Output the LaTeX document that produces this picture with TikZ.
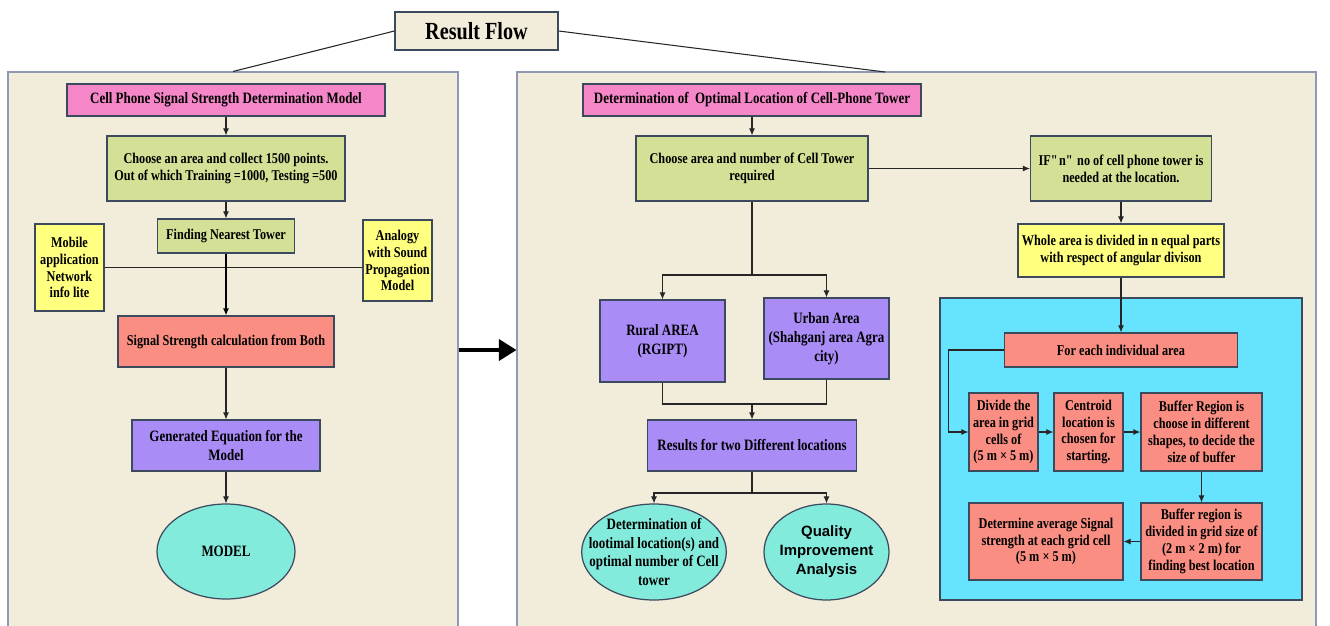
\documentclass[tikz,border=0pt]{standalone}
\usepackage{fontspec}
\setmainfont{Liberation Serif}[FakeStretch=0.82]
\setsansfont{Liberation Sans}
\usetikzlibrary{arrows.meta,shapes.geometric}
\definecolor{panelbg}{HTML}{F2ECDA}
\definecolor{pinkfill}{HTML}{F587C9}
\definecolor{greenfill}{HTML}{D4E096}
\definecolor{yellowfill}{HTML}{FFFF80}
\definecolor{salmonfill}{HTML}{FA8E82}
\definecolor{purplefill}{HTML}{A98CF6}
\definecolor{tealfill}{HTML}{82EBDC}
\definecolor{cyanfill}{HTML}{66E3FF}
\definecolor{edgecol}{HTML}{3D4A5E}
\definecolor{panelline}{HTML}{8F99B5}
\tikzset{
  wh/.style 2 args={minimum width=#1*0.02cm,minimum height=#2*0.02cm},
  blk/.style={draw=edgecol,line width=0.7pt,align=center,inner sep=1pt,
    font=\bfseries\fontsize{8.5}{9.6}\selectfont},
  big/.style={font=\bfseries\fontsize{9}{10.8}\selectfont},
  pinkbox/.style={blk,big,fill=pinkfill},
  greenbox/.style={blk,fill=greenfill},
  yellowbox/.style={blk,fill=yellowfill},
  redbox/.style={blk,fill=salmonfill},
  purplebox/.style={blk,big,fill=purplefill},
  tealoval/.style={blk,big,ellipse,inner sep=0pt,fill=tealfill},
  panel/.style={draw=panelline,line width=0.6pt,fill=panelbg},
  titlebox/.style={blk,fill=panelbg,font=\bfseries\fontsize{14}{16}\selectfont},
  link/.style={line width=0.6pt,draw=black!85},
  bigarrow/.style={line width=2pt,-{Triangle[length=10pt,width=12pt]}}
}
\begin{document}
\begin{tikzpicture}[x=0.02cm,y=-0.02cm,>={Latex[length=4pt,width=3.5pt]}]
\useasboundingbox (0,0) rectangle (1330,626);
% panels
\node[panel,wh={450}{556}] (leftpanel) at (233,350) {};
\node[panel,wh={799}{556}] (rightpanel) at (916.5,350) {};
\node[draw=edgecol,line width=0.7pt,fill=cyanfill,wh={362}{302}] (bluezone) at (1121,449) {};
\draw[bigarrow] (leftpanel.east) -- (rightpanel.west);

% title
\node[titlebox,wh={163}{38}] (title) at (476.5,31) {Result Flow};
\coordinate (rp) at (885,72);
\draw[link] (title.west) -- (leftpanel.north);
\draw[link] (title.east) -- (rp);

% left panel
\node[pinkbox,wh={318}{32}] (sigmodel) at (226,100) {Cell Phone Signal Strength Determination Model};
\node[greenbox,wh={238}{65}] (collect) at (226,168.5) {Choose an area and collect 1500 points.\\Out of which Training =1000, Testing =500};
\node[greenbox,wh={137}{34}] (nearest) at (226,236) {Finding Nearest Tower};
\node[yellowbox,wh={69}{87}] (mobile) at (69.5,267.5) {Mobile\\application\\Network\\info lite};
\node[yellowbox,wh={69}{81}] (analogy) at (397.5,260.5) {Analogy\\with Sound\\Propagation\\Model};
\node[redbox,wh={216}{51}] (calc) at (226,341.5) {Signal Strength calculation from Both};
\node[purplebox,wh={188}{51}] (equation) at (226,445.5) {Generated Equation for the\\Model};
\node[tealoval,wh={138}{95}] (model) at (226,551.5) {MODEL};

\draw[link,->] (sigmodel) -- (collect);
\draw[link,->] (collect) -- (nearest);
\draw[link] (mobile.east) -- (mobile.east -| analogy.west);
\draw[line width=0.9pt,->] (nearest) -- (calc);
\draw[link,->] (calc) -- (equation);
\draw[link,->] (equation) -- (model);

% right panel
\node[pinkbox,wh={338}{32}] (optloc) at (752,100) {Determination of\ \ Optimal Location of Cell-Phone Tower};
\node[greenbox,wh={232}{65}] (area) at (752,168.5) {Choose area and number of Cell Tower\\required};
\node[greenbox,wh={181}{65}] (ifn) at (1121,168.5) {IF\textquotedbl n\textquotedbl\ no of cell phone tower is\\needed at the location.};
\node[yellowbox,wh={206}{53}] (whole) at (1121,250.5) {Whole area is divided in n equal parts\\with respect of angular divison};
\node[purplebox,wh={125}{82}] (rural) at (662.5,341) {Rural AREA\\(RGIPT)};
\node[purplebox,wh={125}{81}] (urban) at (826.5,338.5) {Urban Area\\(Shahganj area Agra\\city)};
\node[purplebox,wh={209}{51}] (results) at (752,445.5) {Results for two Different locations};
\node[tealoval,wh={142}{96},inner sep=-8pt] (optimal) at (654,552) {Determination of\\lootimal location(s) and\\optimal number of Cell\\tower};
\node[tealoval,wh={125}{96},inner sep=-3pt,font=\sffamily\bfseries\fontsize{8.5}{10.8}\selectfont] (quality) at (826.5,552) {Quality\\Improvement\\Analysis};

\coordinate (split) at (752,275);
\coordinate (join) at (752,404);
\coordinate (fork) at (752,493);
\draw[link,->] (optloc) -- (area);
\draw[link,->] (area) -- (ifn);
\draw[link,->] (ifn) -- (whole);
\draw[link] (area) -- (split);
\draw[link,->] (split) -| (rural);
\draw[link,->] (split) -| (urban);
\draw[link] (rural) |- (join);
\draw[link] (urban) |- (join);
\draw[link,->] (join) -- (results);
\draw[link] (results) -- (fork);
\draw[link,->] (fork) -| (optimal);
\draw[link,->] (fork) -| (quality);

% blue zone
\node[redbox,wh={233}{34}] (eacharea) at (1121,350) {For each individual area};
\node[redbox,wh={69}{78}] (divide) at (1003.5,432) {Divide the\\area in grid\\cells of\\(5 m × 5 m)};
\node[redbox,wh={69}{78}] (centroid) at (1088.5,432) {Centroid\\location is\\chosen for\\starting.};
\node[redbox,wh={121}{78}] (buffer) at (1201.5,432) {Buffer Region is\\choose in different\\shapes, to decide the\\size of buffer};
\node[redbox,wh={121}{77}] (finegrid) at (1201.5,541.5) {Buffer region is\\divided in grid size of\\(2 m × 2 m) for\\finding best location};
\node[redbox,wh={154}{77}] (average) at (1046,541.5) {Determine average Signal\\strength at each grid cell\\(5 m × 5 m)};

\draw[link,->] (whole) -- (eacharea);
\draw[link,->] (eacharea.west) -- ++(-55,0) |- (divide.west);
\draw[link,->] (divide) -- (centroid);
\draw[link,->] (centroid) -- (buffer);
\draw[link,->] (buffer) -- (finegrid);
\draw[link,->] (finegrid) -- (average);
\end{tikzpicture}
\end{document}
